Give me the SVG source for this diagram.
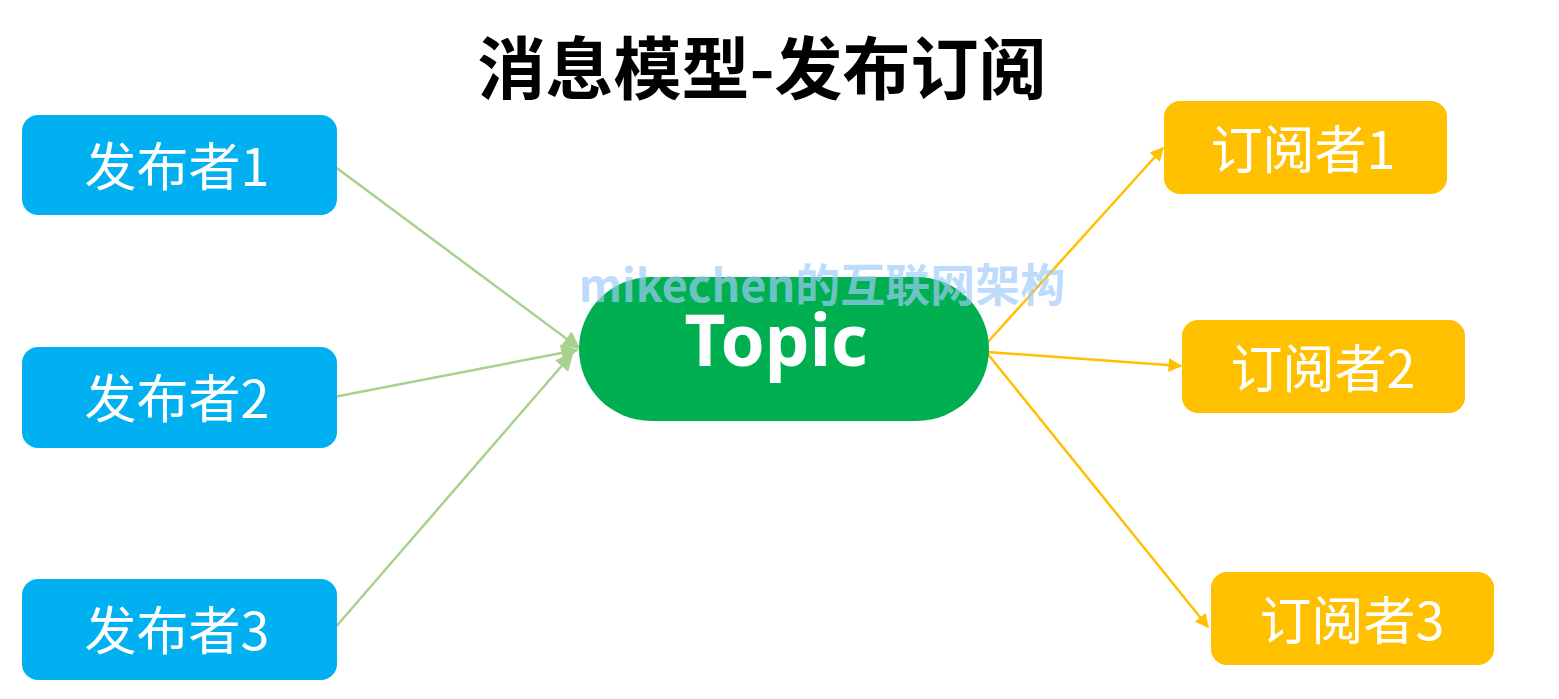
<svg xmlns="http://www.w3.org/2000/svg" width="1559" height="699" viewBox="0 0 1559 699">
<style>
.pub{fill:#00B0F0}
.sub{fill:#FFC000}
.lbl{fill:#fff;font-family:"Noto Sans CJK SC","Noto Sans",sans-serif;font-size:52px;font-weight:400;text-anchor:middle}
.g{stroke:#A9D18E;stroke-width:2.5;fill:none}
.y{stroke:#FFC000;stroke-width:2.5;fill:none}
</style>
<defs>
<marker id="ag" viewBox="0 0 10 10" refX="9" refY="5" markerWidth="7.5" markerHeight="7" markerUnits="strokeWidth" orient="auto"><path d="M0,0 L10,5 L0,10 z" fill="#A9D18E"/></marker>
<marker id="ay" viewBox="0 0 10 10" refX="9" refY="5" markerWidth="7" markerHeight="5.5" markerUnits="strokeWidth" orient="auto"><path d="M0,0 L10,5 L0,10 z" fill="#FFC000"/></marker>
</defs>
<rect width="1559" height="699" fill="#fff"/>
<text x="762" y="94" font-family="'Noto Sans CJK SC',sans-serif" font-weight="bold" font-size="68" text-anchor="middle" fill="#000">消息模型-发布订阅</text>
<g id="connectors">
<line class="g" x1="334" y1="166" x2="579" y2="348" marker-end="url(#ag)"/>
<line class="g" x1="334" y1="397" x2="577" y2="350" marker-end="url(#ag)"/>
<line class="g" x1="334" y1="629" x2="572" y2="354" marker-end="url(#ag)"/>
<line class="y" x1="987" y1="343" x2="1163" y2="148" marker-end="url(#ay)"/>
<line class="y" x1="987" y1="352" x2="1181" y2="366" marker-end="url(#ay)"/>
<line class="y" x1="987" y1="353" x2="1208" y2="627" marker-end="url(#ay)"/>
</g>
<g id="pub1"><rect class="pub" x="22" y="115" width="315" height="100" rx="16"/><text class="lbl" x="177" y="186">发布者1</text></g>
<g id="pub2"><rect class="pub" x="22" y="347" width="315" height="101" rx="16"/><text class="lbl" x="177" y="418">发布者2</text></g>
<g id="pub3"><rect class="pub" x="22" y="579" width="315" height="101" rx="16"/><text class="lbl" x="177" y="650">发布者3</text></g>
<g id="topic"><rect x="579" y="277" width="410" height="144" rx="72" fill="#00B050"/><text x="776" y="366" font-family="'Noto Sans','Open Sans',sans-serif" font-weight="bold" font-size="71" text-anchor="middle" fill="#fff">Topic</text></g>
<g id="sub1"><rect class="sub" x="1164" y="101" width="283" height="93" rx="16"/><text class="lbl" x="1303" y="169">订阅者1</text></g>
<g id="sub2"><rect class="sub" x="1182" y="320" width="283" height="93" rx="16"/><text class="lbl" x="1323" y="388">订阅者2</text></g>
<g id="sub3"><rect class="sub" x="1211" y="572" width="283" height="93" rx="16"/><text class="lbl" x="1352" y="640">订阅者3</text></g>
<text x="822" y="302" font-family="'Noto Sans CJK SC',sans-serif" font-weight="bold" font-size="45" text-anchor="middle" fill="#9FCCFA" fill-opacity="0.7">mikechen的互联网架构</text>
</svg>
